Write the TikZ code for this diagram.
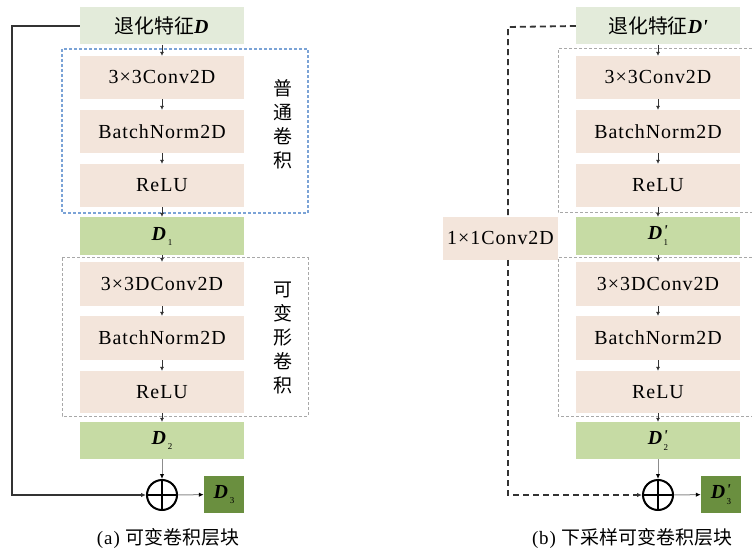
\documentclass[tikz,border=0pt]{standalone}
\usepackage{fontspec}
\setmainfont{Liberation Serif}[LetterSpace=5]
\newfontfamily\cjk{Noto Sans CJK SC}
\usetikzlibrary{arrows.meta,calc}
\definecolor{topc}{HTML}{E3EBDA}
\definecolor{peach}{HTML}{F3E5DB}
\definecolor{midg}{HTML}{C6DBA4}
\definecolor{darkg}{HTML}{6A8F3F}
\definecolor{bluedash}{HTML}{7BA3D6}
\definecolor{greydash}{HTML}{A8A8A8}
\newcommand\Dsub[1]{\textbf{\textit{D}}\kern1bp\raisebox{-5bp}{\fontsize{9}{9}\selectfont #1}}
\newcommand\Dpsub[1]{\textbf{\textit{D}}\kern0.5bp\rlap{\raisebox{4bp}{\fontsize{15}{15}\selectfont\textbf{\textit{\textquotesingle}}}}\raisebox{-6bp}{\fontsize{9}{9}\selectfont #1}}
\begin{document}
\begin{tikzpicture}[x=1bp,y=-1bp,
  box/.style={minimum width=164bp,inner sep=0pt,font=\fontsize{20}{20}\selectfont},
  peachbox/.style={box,fill=peach},
  topbox/.style={box,fill=topc,minimum height=37bp},
  greenbox/.style={box,fill=midg},
  darkbox/.style={fill=darkg,minimum width=40bp,minimum height=37bp,inner sep=0pt,font=\fontsize{20}{20}\selectfont},
  flow/.style={draw=black!80,line width=0.6bp,-{Latex[length=4bp,width=4bp]}},
  grflow/.style={draw=black!45,line width=1bp,-{Latex[length=5bp,width=4.5bp,color=black]}},
  plussym/.style={circle,draw=black,line width=2bp,minimum size=30bp,inner sep=0pt},
  bluebox/.style={draw=bluedash,line width=1.2bp,dash pattern=on 3bp off 2bp},
  greybox/.style={draw=greydash,line width=1bp,dash pattern=on 3bp off 2bp},
  vlabel/.style={font=\cjk\fontsize{19}{24}\selectfont,align=center,inner sep=0pt},
  caption/.style={font=\fontsize{19}{19}\selectfont,inner sep=0pt}
]
\useasboundingbox (0,0) rectangle (752,551);

% ---------- (a) ----------
\draw[bluebox] (62,49) rectangle (308,213);
\draw[greybox] (62,258) rectangle (308,416);
\node[topbox] (a0) at (162,26) {{\cjk 退化特征}\textbf{\textit{D}}};
\node[peachbox,minimum height=43bp] (a1) at (162,77.5) {3×3Conv2D};
\node[peachbox,minimum height=43bp] (a2) at (162,131.5) {BatchNorm2D};
\node[peachbox,minimum height=43bp] (a3) at (162,185.5) {ReLU};
\node[greenbox,minimum height=38bp] (ad1) at (162,236) {\Dsub{1}};
\node[peachbox,minimum height=44bp] (a4) at (162,284) {3×3DConv2D};
\node[peachbox,minimum height=44bp] (a5) at (162,338) {BatchNorm2D};
\node[peachbox,minimum height=42bp] (a6) at (162,392) {ReLU};
\node[greenbox,minimum height=37bp] (ad2) at (162,440.5) {\Dsub{2}};
\node[plussym] (ap) at (162,495) {};
\draw[line width=2bp] (ap.north) -- (ap.south) (ap.west) -- (ap.east);
\node[darkbox] (ad3) at (224,494.5) {\Dsub{3}};
\node[vlabel] (al1) at (283,124) {普\\通\\卷\\积};
\node[vlabel] (al2) at (283,338) {可\\变\\形\\卷\\积};
\node[caption] (acap) at (168,538) {(a) {\cjk 可变卷积层块}};

\draw[flow] (a0) -- (a1);
\draw[flow] (a1) -- (a2);
\draw[flow] (a2) -- (a3);
\draw[flow] (a3) -- (ad1);
\draw[flow] (ad1) -- (a4);
\draw[flow] (a4) -- (a5);
\draw[flow] (a5) -- (a6);
\draw[flow] (a6) -- (ad2);
\draw[grflow] (ad2) -- (ap);
\draw[grflow] (ap) -- (ad3);
\coordinate (ac1) at (12,26);
\coordinate (ac2) at (12,495);
\draw[draw=black!80,line width=1.5bp,-{Latex[length=5bp,width=4.5bp]}] (a0.west) -- (ac1) -- (ac2) -- (ap.west);

% ---------- (b) ----------
\draw[greybox] (752,49) -- (558,49) -- (558,213) -- (752,213);
\draw[greybox] (752,258) -- (558,258) -- (558,416) -- (752,416);
\node[topbox] (b0) at (658,26) {{\cjk 退化特征}\textbf{\textit{D\textquotesingle}}};
\node[peachbox,minimum height=43bp] (b1) at (658,77.5) {3×3Conv2D};
\node[peachbox,minimum height=43bp] (b2) at (658,131.5) {BatchNorm2D};
\node[peachbox,minimum height=43bp] (b3) at (658,185.5) {ReLU};
\node[greenbox,minimum height=38bp] (bd1) at (658,236) {\Dpsub{1}};
\node[peachbox,minimum height=44bp] (b4) at (658,284) {3×3DConv2D};
\node[peachbox,minimum height=44bp] (b5) at (658,338) {BatchNorm2D};
\node[peachbox,minimum height=42bp] (b6) at (658,392) {ReLU};
\node[greenbox,minimum height=37bp] (bd2) at (658,440.5) {\Dpsub{2}};
\node[plussym] (bp) at (658,495) {};
\draw[line width=2bp] (bp.north) -- (bp.south) (bp.west) -- (bp.east);
\node[darkbox] (bd3) at (721,494.5) {\Dpsub{3}};
\node[peachbox,minimum width=115bp,minimum height=43bp] (bconv) at (500.5,238.5) {1×1Conv2D};
\node[caption] (bcap) at (632,538) {(b) {\cjk 下采样可变卷积层块}};

\draw[flow] (b0) -- (b1);
\draw[flow] (b1) -- (b2);
\draw[flow] (b2) -- (b3);
\draw[flow] (b3) -- (bd1);
\draw[flow] (bd1) -- (b4);
\draw[flow] (b4) -- (b5);
\draw[flow] (b5) -- (b6);
\draw[flow] (b6) -- (bd2);
\draw[grflow] (bd2) -- (bp);
\draw[grflow] (bp) -- (bd3);
\coordinate (bc1) at (508,27);
\coordinate (bc2) at (508,217);
\coordinate (bc3) at (508,260);
\coordinate (bc4) at (508,495);
\draw[draw=black!80,line width=1.8bp,dash pattern=on 6bp off 4bp] (b0.west) -- (bc1) -- (bc2);
\draw[draw=black!80,line width=1.8bp,dash pattern=on 6bp off 4bp,-{Latex[length=5bp,width=4.5bp]}] (bc3) -- (bc4) -- (bp.west);
\end{tikzpicture}
\end{document}
